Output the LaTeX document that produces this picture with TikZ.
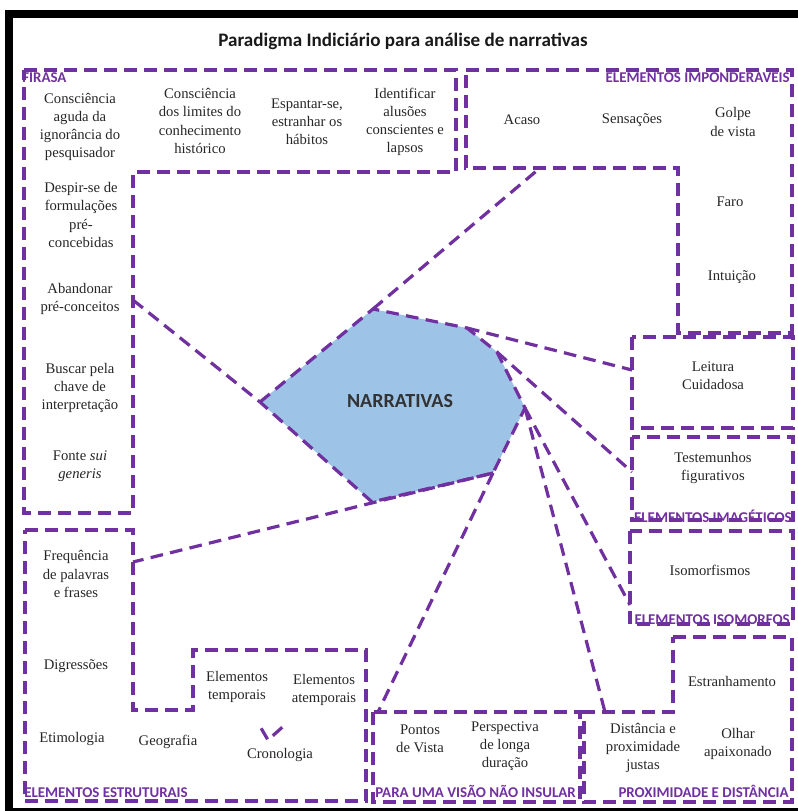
\documentclass[tikz,border=0pt]{standalone}
\usepackage{fontspec}
\setmainfont{Liberation Serif}
\newfontfamily\calibri{Carlito}
\usetikzlibrary{calc}
\definecolor{roxo}{HTML}{7030A0}
\definecolor{azulnarr}{HTML}{9DC3E6}

\begin{document}
\begin{tikzpicture}[
    x=0.75pt, y=-0.75pt,
    txt/.style={align=center, inner sep=0pt, text=black!85, font=\fontsize{11}{13.6}\selectfont},
    rotulo/.style={inner sep=0pt, text=roxo, font=\calibri\bfseries\fontsize{11.2}{12}\selectfont},
    regiao/.style={draw=roxo, line width=2.4pt, dash pattern=on 9.5pt off 5.5pt},
    ligacao/.style={draw=roxo, line width=2.4pt, dash pattern=on 9.5pt off 5.5pt}
  ]
  \useasboundingbox (0,0) rectangle (798,811);
  \draw[line width=6pt] (9,14) rectangle (806,812);

  \node[anchor=base, font=\calibri\bfseries\fontsize{14.3}{17}\selectfont, text=black!90] (titulo) at (403,46)
    {Paradigma Indiciário para análise de narrativas};

  % regioes
  \draw[regiao] (24,70) -- (456,70) -- (456,172) -- (133,172) -- (133,513) -- (24,513) -- cycle;
  \draw[regiao] (466,70) -- (792,70) -- (792,333) -- (678,333) -- (678,168) -- (466,168) -- cycle;
  \draw[regiao] (632,337) rectangle (793,428);
  \draw[regiao] (632,437) rectangle (793,520);
  \draw[regiao] (630,531) rectangle (793,624);
  \draw[regiao] (673,637) -- (792,637) -- (792,802) -- (584,802) -- (584,712) -- (673,712) -- cycle;
  \draw[regiao] (373,712) rectangle (580,802);
  \draw[regiao] (25,530) -- (133,530) -- (133,710) -- (193,710) -- (193,650) -- (366,650) -- (366,801) -- (25,801) -- cycle;

  \node[rotulo, anchor=base west] (lfir) at (22,82) {FIRASA};
  \node[rotulo, anchor=base east] (limp) at (790,82) {ELEMENTOS IMPONDERAVEIS};
  \node[rotulo, anchor=base east] (limg) at (792,522) {ELEMENTOS IMAGÉTICOS};
  \node[rotulo, anchor=base east] (liso) at (790,624) {ELEMENTOS ISOMORFOS};
  \node[rotulo, anchor=base west] (lest) at (24,797) {ELEMENTOS ESTRUTURAIS};
  \node[rotulo, anchor=base west] (lvis) at (375,797) {PARA UMA VISÃO NÃO INSULAR};
  \node[rotulo, anchor=base east] (lpro) at (789,797) {PROXIMIDADE E DISTÂNCIA};

  % firasa
  \node[txt] (f1) at (80,127) {Consciência\\aguda da\\ignorância do\\pesquisador};
  \node[txt] (f2) at (200,121) {Consciência\\dos limites do\\conhecimento\\histórico};
  \node[txt] (f3) at (307,122) {Espantar-se,\\estranhar os\\hábitos};
  \node[txt] (f4) at (405,122) {Identificar\\alusões\\conscientes e\\lapsos};
  \node[txt] (f5) at (81,215) {Despir-se de\\formulações\\pré-\\concebidas};
  \node[txt] (f6) at (80,299) {Abandonar\\pré-conceitos};
  \node[txt] (f7) at (80,388) {Buscar pela\\chave de\\interpretação};
  \node[txt] (f8) at (80,466) {Fonte \textit{sui}\\\textit{generis}};

  % imponderaveis
  \node[txt] (i1) at (522,120) {Acaso};
  \node[txt] (i2) at (632,120) {Sensações};
  \node[txt] (i3) at (733,122) {Golpe\\de vista};
  \node[txt] (i4) at (730,202) {Faro};
  \node[txt] (i5) at (732,277) {Intuição};

  \node[txt] (l1) at (713,376) {Leitura\\Cuidadosa};
  \node[txt] (t1) at (713,468) {Testemunhos\\figurativos};
  \node[txt] (s1) at (710,570) {Isomorfismos};

  % proximidade e visao
  \node[txt] (p1) at (732,681) {Estranhamento};
  \node[txt] (p2) at (643,748) {Distância e\\proximidade\\justas};
  \node[txt] (p3) at (738,744) {Olhar\\apaixonado};
  \node[txt] (v1) at (420,739) {Pontos\\de Vista};
  \node[txt] (v2) at (505,746) {Perspectiva\\de longa\\duração};

  % estruturais
  \node[txt] (e1) at (76,574) {Frequência\\de palavras\\e frases};
  \node[txt] (e2) at (76,666) {Digressões};
  \node[txt] (e3) at (72,739) {Etimologia};
  \node[txt] (e4) at (168,742) {Geografia};
  \node[txt] (e5) at (237,687) {Elementos\\temporais};
  \node[txt] (e6) at (324,690) {Elementos\\atemporais};
  \node[txt] (e7) at (280,755) {Cronologia};
  \coordinate (cv) at (268,740);
  \draw[ligacao, shorten <=22pt] (e5) -- (cv);
  \draw[ligacao, shorten <=24pt] (e6) -- (cv);

  % narrativas
  \coordinate (n1) at (260,402);
  \coordinate (n2) at (373,309);
  \coordinate (n3) at (467,328);
  \coordinate (n4) at (497,352);
  \coordinate (n5) at (525,408);
  \coordinate (n6) at (493,473);
  \coordinate (n7) at (372,502);
  \filldraw[fill=azulnarr, ligacao] (n1) -- (n2) -- (n3) -- (n4) -- (n5) -- (n6) -- (n7) -- cycle;
  \node[font=\calibri\bfseries\fontsize{15}{17}\selectfont, text=black!80] (narr) at (400,401) {NARRATIVAS};

  \coordinate (fA) at (133,300);
  \coordinate (iA) at (540,168);
  \coordinate (lA) at (632,370);
  \coordinate (tA) at (632,472);
  \coordinate (sA) at (630,605);
  \coordinate (pA) at (605,712);
  \coordinate (vA) at (378,712);
  \coordinate (eA) at (133,562);
  \draw[ligacao] (fA) -- (n1);
  \draw[ligacao] (n2) -- (iA);
  \draw[ligacao] (n3) -- (lA);
  \draw[ligacao] (n4) -- (tA);
  \draw[ligacao] (n5) -- (sA);
  \draw[ligacao] (n5) -- (pA);
  \draw[ligacao] (n6) -- (vA);
  \draw[ligacao] (n6) -- (eA);
\end{tikzpicture}
\end{document}
